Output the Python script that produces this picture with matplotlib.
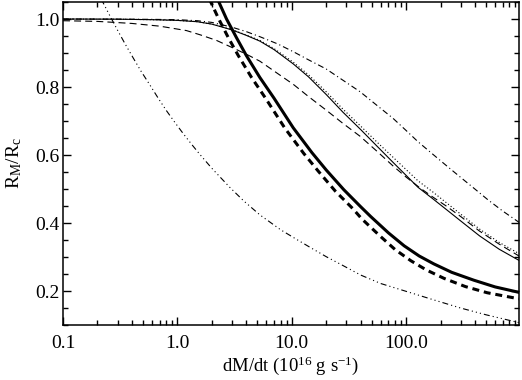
import matplotlib
matplotlib.use('Agg')
import matplotlib.pyplot as plt
from matplotlib.ticker import FixedLocator, MultipleLocator, LogLocator, NullFormatter

plt.rcParams['font.family'] = ['Liberation Serif', 'DejaVu Serif']
plt.rcParams['mathtext.fontset'] = 'custom'
plt.rcParams['mathtext.rm'] = 'Liberation Serif'
plt.rcParams['mathtext.it'] = 'Liberation Serif:italic'
plt.rcParams['lines.scale_dashes'] = False

# thin solid
x_solid = [0.1, 0.3, 0.6, 1.0, 1.5, 2.0, 3.0, 4.0, 5.26, 7.0, 10.3, 14, 20, 28, 40,
           56, 77, 100, 127, 170, 224, 300, 439, 650, 970]
y_solid = [1.0, 0.9995, 0.998, 0.996, 0.992, 0.985, 0.968, 0.952, 0.935, 0.91, 0.868,
           0.83, 0.778, 0.726, 0.675, 0.625, 0.578, 0.54, 0.505, 0.472, 0.44, 0.406,
           0.362, 0.323, 0.29]

# thin dotted
x_dot = [0.1, 0.3, 0.6, 1.0, 1.5, 2.0, 3.0, 4.0, 5.26, 7.0, 10.3, 14, 20, 28, 40,
         56, 77, 100, 127, 170, 224, 300, 439, 650, 970]
y_dot = [1.0, 0.9995, 0.998, 0.996, 0.992, 0.985, 0.969, 0.953, 0.937, 0.913, 0.873,
         0.836, 0.786, 0.735, 0.685, 0.637, 0.593, 0.557, 0.524, 0.492, 0.46, 0.426,
         0.382, 0.343, 0.31]

# thin dash-dot
x_dashdot = [0.1, 0.3, 0.6, 1.0, 1.5, 2.0, 3.0, 4.0, 5.26, 7.5, 10.3, 14, 20, 28, 39.6,
             56, 76.7, 100, 127, 170, 230, 300, 389, 520, 700, 970]
y_dashdot = [1.0, 0.9995, 0.999, 0.998, 0.995, 0.99, 0.976, 0.963, 0.948, 0.927, 0.904,
             0.88, 0.853, 0.82, 0.786, 0.745, 0.708, 0.672, 0.639, 0.603, 0.566, 0.534,
             0.503, 0.468, 0.435, 0.402]

# thin dashed
x_dash = [0.1, 0.2, 0.4, 0.7, 1.2, 1.6, 2.2, 3.2, 4.2, 5.26, 7.5, 10.3, 14, 20, 28,
          39.6, 56, 76.7, 100, 130, 170, 224, 300, 439, 650, 970]
y_dash = [0.995, 0.993, 0.987, 0.979, 0.966, 0.953, 0.937, 0.912, 0.893, 0.876, 0.84,
          0.808, 0.772, 0.732, 0.693, 0.655, 0.61, 0.568, 0.535, 0.505, 0.477, 0.45,
          0.419, 0.376, 0.338, 0.303]

# thin dash-dot-dot-dot
x_d3 = [0.2, 0.218, 0.25, 0.3, 0.35, 0.41, 0.48, 0.575, 0.68, 0.8, 0.95, 1.13, 1.35,
        1.57, 2.0, 2.87, 3.8, 5.26, 8.0, 11, 14.7, 20, 28, 40, 60, 100, 170, 299, 500, 970]
y_d3 = [1.09, 1.056, 1.017, 0.967, 0.926, 0.886, 0.847, 0.806, 0.767, 0.731, 0.696,
        0.662, 0.629, 0.602, 0.561, 0.505, 0.465, 0.424, 0.38, 0.352, 0.327, 0.301,
        0.275, 0.247, 0.222, 0.199, 0.175, 0.15, 0.13, 0.107]

# thick solid
x_thick = [2.0, 2.27, 2.69, 3.3, 4.0, 5.26, 7.0, 10.3, 15, 20, 28.5, 40, 49, 70, 96,
           130, 174, 250, 389, 600, 970]
y_thick = [1.09, 1.055, 1.0, 0.944, 0.893, 0.828, 0.767, 0.68, 0.607, 0.556, 0.498,
           0.448, 0.419, 0.371, 0.333, 0.303, 0.28, 0.255, 0.232, 0.212, 0.196]

# thick dashed
x_thickdash = [1.7, 1.92, 2.3, 2.8, 3.4, 4.45, 5.9, 8.7, 12.7, 17, 24, 34, 41, 59, 80,
               110, 150, 215, 330, 510, 970]
y_thickdash = [1.09, 1.056, 1.0, 0.944, 0.893, 0.828, 0.767, 0.679, 0.605, 0.553, 0.494,
               0.443, 0.412, 0.362, 0.322, 0.289, 0.262, 0.237, 0.213, 0.195, 0.177]

fig = plt.figure(figsize=(5.22, 3.80), dpi=100)
ax = fig.add_axes([0.1207, 0.1447, 0.8736, 0.85])

thin = 0.8
ax.plot(x_solid, y_solid, color='k', lw=thin)
ax.plot(x_dot, y_dot, color='k', lw=thin, linestyle=(0, (0.8, 1.6)))
ax.plot(x_dashdot, y_dashdot, color='k', lw=thin, linestyle=(0, (4.3, 2.2, 0.8, 2.2)))
ax.plot(x_dash, y_dash, color='k', lw=thin, linestyle=(0, (5, 3)))
ax.plot(x_d3, y_d3, color='k', lw=thin,
        linestyle=(0, (4.3, 2.2, 0.8, 2.2, 0.8, 2.2, 0.8, 2.2)))
ax.plot(x_thick, y_thick, color='k', lw=2.2)
ax.plot(x_thickdash, y_thickdash, color='k', lw=2.2, linestyle=(0, (5, 3.5)))

ax.set_xscale('log')
ax.set_xlim(0.1, 970)
ax.set_ylim(0.1, 1.05)

ax.xaxis.set_major_locator(FixedLocator([0.1, 1.0, 10.0, 100.0]))
ax.set_xticklabels(['0.1', '1.0', '10.0', '100.0'])
ax.xaxis.set_minor_locator(LogLocator(base=10, subs=range(2, 10), numticks=20))
ax.xaxis.set_minor_formatter(NullFormatter())
ax.yaxis.set_major_locator(FixedLocator([0.2, 0.4, 0.6, 0.8, 1.0]))
ax.set_yticklabels(['0.2', '0.4', '0.6', '0.8', '1.0'])
ax.yaxis.set_minor_locator(MultipleLocator(0.05))

ax.tick_params(which='both', direction='in', top=True, right=True, width=1.0,
               labelsize=14)
ax.tick_params(which='major', length=6)
ax.tick_params(which='minor', length=3.5)
ax.tick_params(axis='x', which='major', pad=7.5)
ax.tick_params(axis='y', which='major', pad=2.5)
for s in ax.spines.values():
    s.set_linewidth(1.1)

ax.set_xlabel(r'dM/dt (10$^{16}$ g s$^{-1}$)', fontsize=13.5, labelpad=1.5)
ax.set_ylabel(r'R$_{\mathrm{M}}$/R$_{\mathrm{c}}$', fontsize=14, labelpad=8)

fig.savefig('out.png', dpi=100)
